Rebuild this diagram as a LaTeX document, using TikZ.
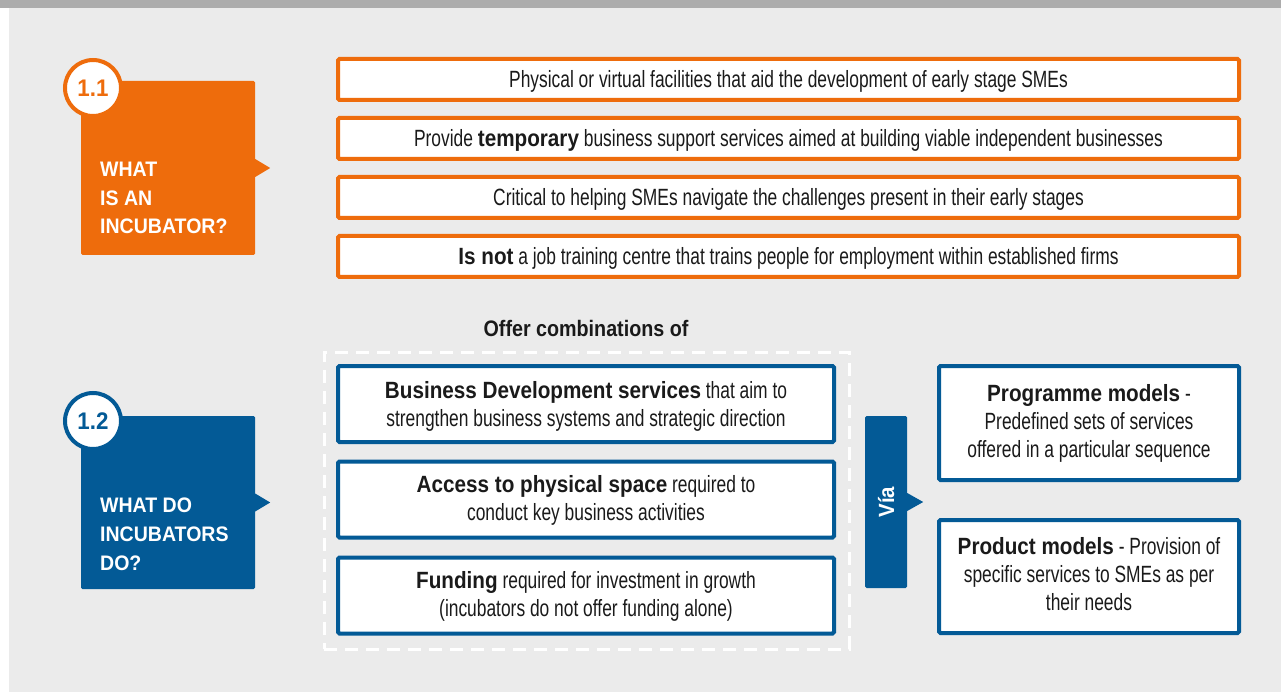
\documentclass[tikz,border=0pt]{standalone}
\usepackage{fontspec}
\setmainfont{Liberation Sans}[FakeStretch=0.74]
\newfontfamily\hvfam{Liberation Sans}[FakeStretch=0.88]
\newfontfamily\ttlfam{Liberation Sans}[FakeStretch=0.93]
\newcommand\hv{\hvfam\bfseries}
\definecolor{incorange}{HTML}{EE6C0C}
\definecolor{incblue}{HTML}{035A96}
\definecolor{bggray}{HTML}{EBEBEB}
\definecolor{bargray}{HTML}{ACACAC}
\definecolor{txt}{HTML}{1A1A1A}
\tikzset{
  bodyfont/.style={font=\fontsize{23.5}{28}\selectfont, text=txt},
  rowbox/.style={bodyfont, draw=incorange, line width=4pt, fill=white, rounded corners=1.5pt,
    minimum width=901pt, minimum height=41pt, inner sep=0pt, text height=17pt, text depth=0pt},
  midbox/.style={bodyfont, draw=incblue, line width=4pt, fill=white, rounded corners=1.5pt,
    minimum width=496pt, minimum height=76pt, inner sep=0pt, align=center, text depth=0pt,
    execute at begin node={\rule{0pt}{17pt}}},
  sidebox/.style={midbox, minimum width=300pt, minimum height=114pt},
  titlebox/.style={fill=#1, rounded corners=1.5pt, minimum width=174pt, minimum height=174pt, inner sep=0pt},
  badge/.style={circle, draw=#1, fill=white, line width=4pt, minimum size=56pt, inner sep=0pt, text=#1,
    font=\ttlfam\bfseries\fontsize{24}{24}\selectfont, text height=17pt, text depth=0pt},
  ttl/.style={text=white, font=\ttlfam\bfseries\fontsize{21}{21}\selectfont, inner sep=0pt, anchor=base west},
}
\begin{document}
\begin{tikzpicture}[x=1pt,y=-1pt]
\useasboundingbox (0,0) rectangle (1281,692);
\fill[white] (0,0) rectangle (1281,692);
\fill[bargray] (0,0) rectangle (1281,8);
\fill[bggray] (9,8) rectangle (1281,692);

% ---- 1.1 ----
\node[titlebox=incorange] (q1) at (168,168) {};
\fill[incorange] (q1.east) ++(0,-9) -- ++(15,9) -- ++(-15,9) -- cycle;
\node[badge=incorange] (b1) at (93,88) {1.1};
\node[ttl] (q1a) at (100,177) {WHAT};
\node[ttl] (q1b) at (100,206) {IS AN};
\node[ttl] (q1c) at (100,234) {INCUBATOR?};

\node[rowbox] (r1) at (788.5,79.5) {Physical or virtual facilities that aid the development of early stage SMEs};
\node[rowbox] (r2) at (788.5,138.5) {Provide {\hv temporary} business support services aimed at building viable independent businesses};
\node[rowbox] (r3) at (788.5,197.5) {Critical to helping SMEs navigate the challenges present in their early stages};
\node[rowbox] (r4) at (788.5,256.5) {{\hv Is not} a job training centre that trains people for employment within established firms};

% ---- 1.2 ----
\node[titlebox=incblue, minimum height=173pt] (q2) at (168,502.5) {};
\fill[incblue] (q2.east) ++(0,-9) -- ++(15,9) -- ++(-15,9) -- cycle;
\node[badge=incblue] (b2) at (93,421) {1.2};
\node[ttl] (q2a) at (100,512) {WHAT DO};
\node[ttl] (q2b) at (100,541) {INCUBATORS};
\node[ttl] (q2c) at (100,570) {DO?};

\node[text=txt, font=\hvfam\bfseries\fontsize{22.4}{24}\selectfont, text height=16pt, text depth=0pt, inner sep=0pt]
  (offer) at (586,328) {Offer combinations of};
\node[draw=white, line width=3pt, dash pattern=on 13pt off 8pt, minimum width=525pt, minimum height=297pt]
  (grp) at (586.5,500.5) {};

\node[midbox] (m1) at (586,404) {{\hv Business Development services} that aim to\\strengthen business systems and strategic direction};
\node[midbox, text depth=4pt] (m2) at (586,499.5) {{\hv Access to physical space} required to\\conduct key business activities};
\node[midbox, text depth=4pt] (m3) at (586,595.5) {{\hv Funding} required for investment in growth\\(incubators do not offer funding alone)};

\node[fill=incblue, rounded corners=1.5pt, rotate=90, minimum width=172pt, minimum height=42pt, inner sep=0pt,
  text=white, font=\ttlfam\bfseries\fontsize{22}{22}\selectfont, text height=16pt, text depth=0pt] (via) at (886,502) {Vía};
\fill[incblue] (via.south) ++(0,-9) -- ++(16,9) -- ++(-16,9) -- cycle;

\node[sidebox, text depth=4pt] (s1) at (1089,423) {{\hv Programme models} -\\Predefined sets of services\\offered in a particular sequence};
\node[sidebox, minimum height=113pt, text depth=6pt] (s2) at (1089,576.5) {{\hv Product models} - Provision of\\specific services to SMEs as per\\their needs};
\end{tikzpicture}
\end{document}
